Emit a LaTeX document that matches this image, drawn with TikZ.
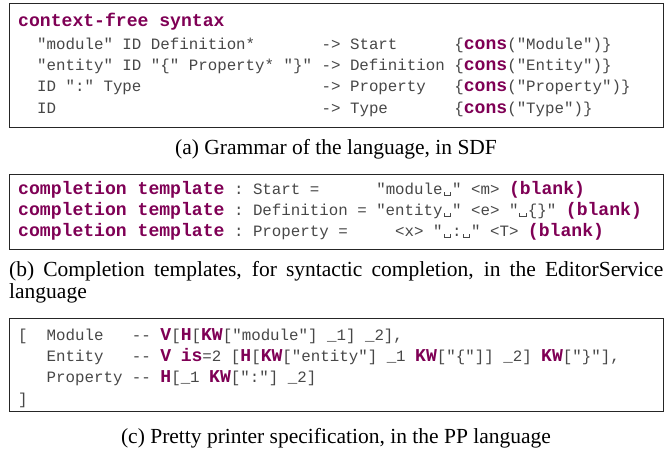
\documentclass[tikz,border=0pt]{standalone}
\usepackage{fontspec}
\setmainfont{Liberation Serif}
\setmonofont{Liberation Mono}
\definecolor{kwc}{RGB}{127,0,85}
\newcommand\kw[1]{{\fontsize{18.1}{18}\selectfont\bfseries\color{kwc}#1}}
\newcommand\vsp{\makebox[0.6em][c]{\rule[-0.12em]{0.06em}{0.22em}\rule[-0.12em]{0.36em}{0.06em}\rule[-0.12em]{0.06em}{0.22em}}}
\tikzset{
  codebox/.style={draw=black!85,line width=1.2pt,anchor=north west,inner sep=0pt,minimum width=654pt},
  codeline/.style={anchor=base west,inner sep=0pt,font=\fontsize{15.8}{18}\selectfont\ttfamily,text=black!72},
  captext/.style={anchor=base,inner sep=0pt,font=\fontsize{21.5}{24}\selectfont}
}
\begin{document}
\begin{tikzpicture}[x=1pt,y=-1pt]
\useasboundingbox (0,0) rectangle (668,453);
% box a
\node[codebox,minimum height=124pt] (boxa) at (9,3) {};
\node[codeline] (a0) at (18,26) {\kw{context-free~syntax}};
\node[codeline] (a1) at (18,49) {~~"module"~ID~Definition*~~~~~~~->~Start~~~~~~\{\kw{cons}("Module")\}};
\node[codeline] (a2) at (18,70) {~~"entity"~ID~"\{"~Property*~"\}"~->~Definition~\{\kw{cons}("Entity")\}};
\node[codeline] (a3) at (18,91.5) {~~ID~":"~Type~~~~~~~~~~~~~~~~~~~->~Property~~~\{\kw{cons}("Property")\}};
\node[codeline] (a4) at (18,113) {~~ID~~~~~~~~~~~~~~~~~~~~~~~~~~~~->~Type~~~~~~~\{\kw{cons}("Type")\}};
\node[captext] (capa) at (336,154) {(a) Grammar of the language, in SDF};
% box b
\node[codebox,minimum height=75pt] (boxb) at (9,174) {};
\node[codeline] (b1) at (18,194) {\kw{completion~template}~:~Start~=~~~~~~"module\vsp"~<m>~\kw{(blank)}};
\node[codeline] (b2) at (18,215) {\kw{completion~template}~:~Definition~=~"entity\vsp"~<e>~"\vsp\{\}"~\kw{(blank)}};
\node[codeline] (b3) at (18,236) {\kw{completion~template}~:~Property~=~~~~~<x>~"\vsp:\vsp"~<T>~\kw{(blank)}};
\node[captext,anchor=base west] (capb1) at (9,276) {\makebox[654pt][s]{(b) Completion templates, for syntactic completion, in the EditorService}};
\node[captext,anchor=base west] (capb2) at (9,298) {language};
% box c
\node[codebox,minimum height=93pt] (boxc) at (9,318) {};
\node[codeline] (c1) at (18,340) {[~~Module~~~-{}-~\kw{V}[\kw{H}[\kw{KW}["module"]~\_1]~\_2],};
\node[codeline] (c2) at (18,361) {~~~Entity~~~-{}-~\kw{V}~\kw{is}=2~[\kw{H}[\kw{KW}["entity"]~\_1~\kw{KW}["\{"]]~\_2]~\kw{KW}["\}"],};
\node[codeline] (c3) at (18,382) {~~~Property~-{}-~\kw{H}[\_1~\kw{KW}[":"]~\_2]};
\node[codeline] (c4) at (18,404) {]};
\node[captext] (capc) at (336,443) {(c) Pretty printer specification, in the PP language};
\end{tikzpicture}
\end{document}
